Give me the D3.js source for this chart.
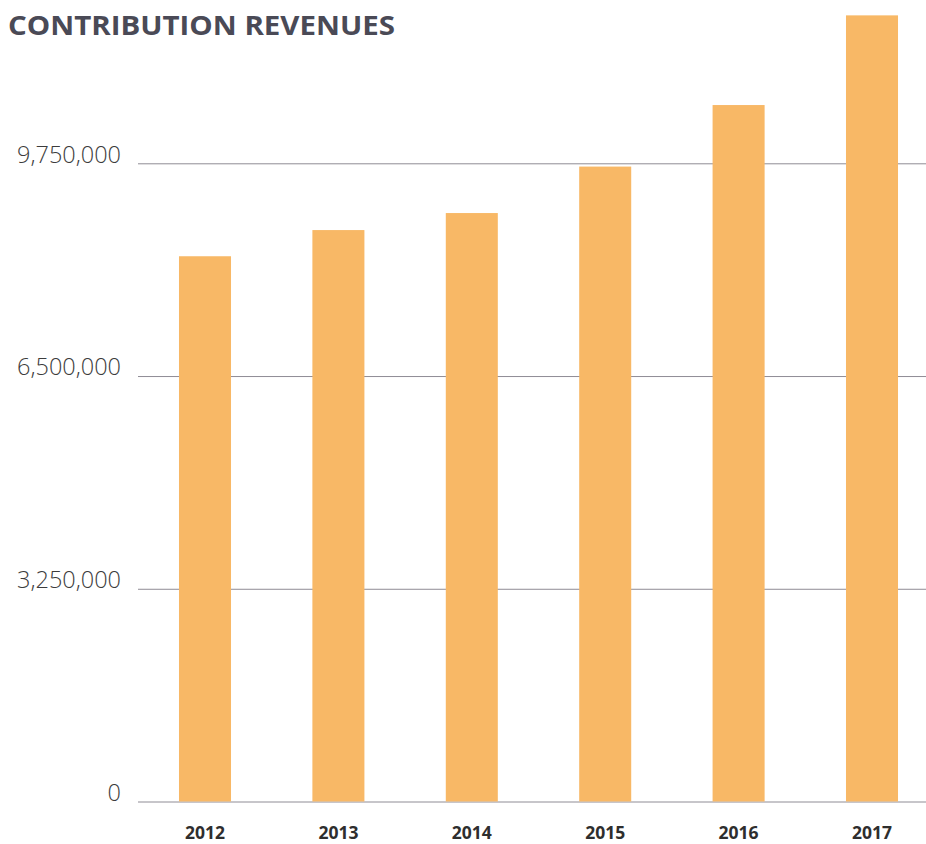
<!DOCTYPE html>
<html>
<head>
<meta charset="utf-8">
<script src="https://cdn.jsdelivr.net/npm/d3@7"></script>
<style>
  html, body { margin: 0; padding: 0; background: #ffffff; }
  svg { display: block; }
</style>
</head>
<body>
<svg id="chart" width="926" height="844"></svg>
<script>
// Contribution revenues by fiscal year
const years = ["2012", "2013", "2014", "2015", "2016", "2017"];
const revenues = [8330000, 8730000, 8990000, 9700000, 10640000, 12010000];
const yTicks = [0, 3250000, 6500000, 9750000];
const titleText = "CONTRIBUTION REVENUES";

const svg = d3.select("#chart");
const W = 926, H = 844;

const y = d3.scaleLinear()
  .domain([0, 9750000])
  .range([801.5, 163.3]);

const x = d3.scaleBand()
  .domain(years)
  .range([138.3, 938.7])
  .paddingInner(0.61)
  .paddingOuter(0.305);

// Title
svg.append("text")
  .attr("x", 8)
  .attr("y", 35)
  .attr("font-family", "'Open Sans', sans-serif")
  .attr("font-weight", 700)
  .attr("font-size", 26.5)
  .attr("fill", "#4a4a56")
  .attr("textLength", 387)
  .attr("lengthAdjust", "spacingAndGlyphs")
  .text(titleText);

// Horizontal gridlines with value labels
const yAxis = d3.axisLeft(y)
  .tickValues(yTicks)
  .tickSize(-(W - 138))
  .tickPadding(17)
  .tickFormat(d3.format(","));

const gy = svg.append("g")
  .attr("transform", "translate(138,0)")
  .call(yAxis);
gy.select(".domain").remove();
gy.selectAll(".tick line")
  .attr("stroke", "#8f8c95")
  .attr("stroke-width", 1);
gy.selectAll(".tick text")
  .attr("font-family", "'Open Sans', sans-serif")
  .attr("font-weight", 300)
  .attr("font-size", 23.5)
  .attr("fill", "#3c3c3c")
  .attr("dy", "-0.05em");

// Bars
svg.append("g")
  .selectAll("rect")
  .data(revenues)
  .join("rect")
  .attr("x", (d, i) => x(years[i]))
  .attr("width", x.bandwidth())
  .attr("y", d => y(d))
  .attr("height", d => y(0) - y(d))
  .attr("fill", "#f8b866");

// Year labels
const xAxis = d3.axisBottom(x).tickSize(0).tickPadding(0);
const gx = svg.append("g")
  .attr("transform", "translate(0,839)")
  .call(xAxis);
gx.select(".domain").remove();
gx.selectAll(".tick text")
  .attr("font-family", "'Open Sans', sans-serif")
  .attr("font-weight", 700)
  .attr("font-size", 17.5)
  .attr("fill", "#2e2e2e")
  .attr("dy", "0em");
</script>
</body>
</html>
